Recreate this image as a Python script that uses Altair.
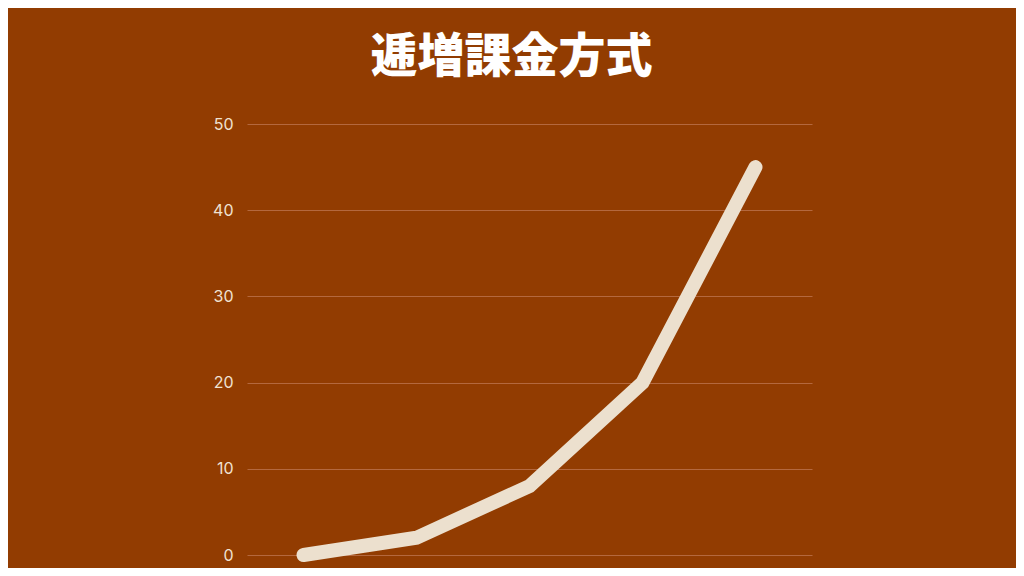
import altair as alt
import pandas as pd

steps = ["1", "2", "3", "4", "5"]
values = [0, 2, 8, 20, 45]

df = pd.DataFrame({"step": steps, "value": values})

BG = "#923C01"
CREAM = "#ECE0CE"

chart = alt.Chart(df).mark_line(
    color=CREAM, strokeWidth=14, strokeCap="round", strokeJoin="miter"
).encode(
    x=alt.X("step:N", axis=None, sort=steps,
            scale=alt.Scale(type="point", padding=0.5)),
    y=alt.Y("value:Q", scale=alt.Scale(domain=[0, 50]),
            axis=alt.Axis(values=[0, 10, 20, 30, 40, 50], title=None,
                          domain=False, ticks=False, labelPadding=14,
                          labelFont="Inter", labelFontSize=16,
                          labelColor="#F0E2D2", gridColor="#B4683E",
                          gridWidth=1)),
).properties(
    width=565, height=431,
    background=BG,
    autosize=alt.AutoSizeParams(type="none"),
    padding={"left": 239, "top": 116, "right": 204, "bottom": 13},
    title=alt.TitleParams("逓増課金方式", font="Noto Sans CJK JP",
                          fontSize=47, fontWeight=900, color="white",
                          anchor="middle", dx=-18, offset=34),
).configure_view(stroke=None)

chart.save("out.html", embed_options={"renderer": "svg", "actions": False})
